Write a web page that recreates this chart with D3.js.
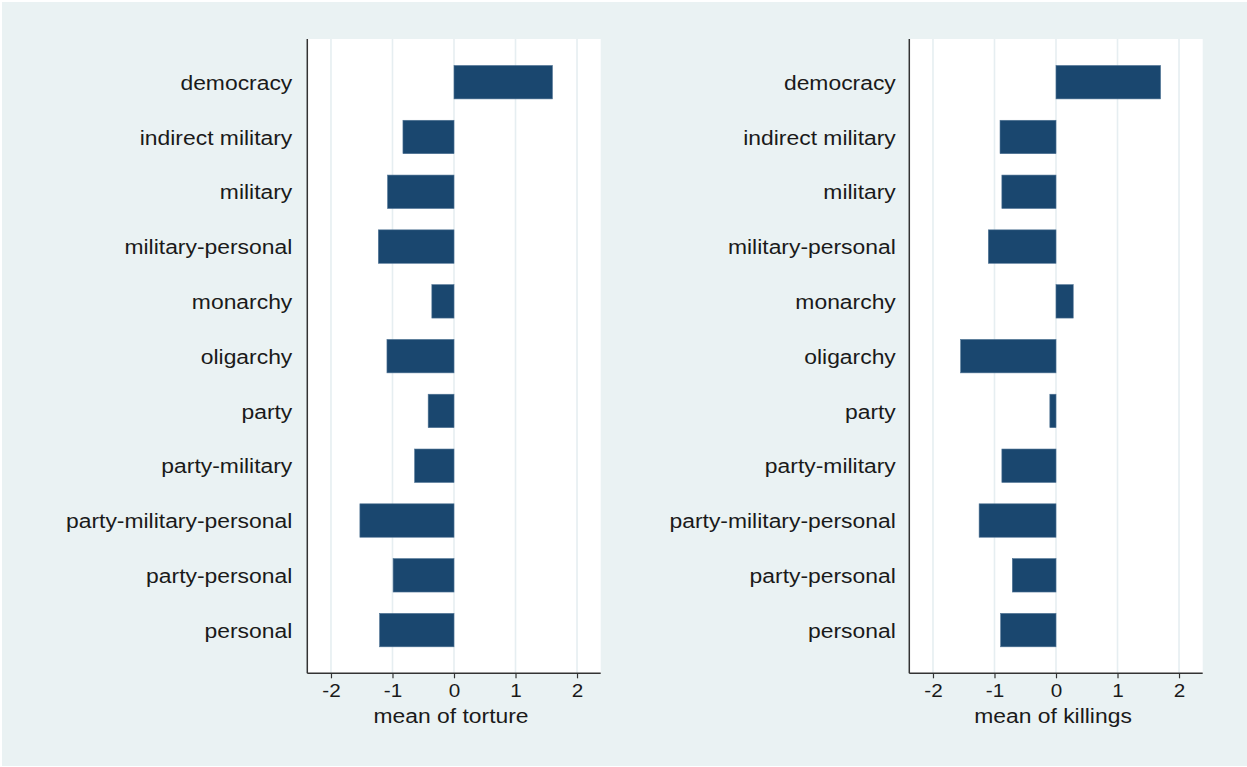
<!DOCTYPE html>
<html>
<head>
<meta charset="utf-8">
<script src="https://cdn.jsdelivr.net/npm/d3@7"></script>
<style>
  html, body { margin: 0; padding: 0; background: #ffffff; }
  svg { display: block; }
  text { font-family: "Liberation Sans", Arial, Helvetica, sans-serif; fill: #1a1a1a; }
</style>
</head>
<body>
<script>
// ---- data ----
const categories = ["democracy", "indirect military", "military", "military-personal", "monarchy",
  "oligarchy", "party", "party-military", "party-military-personal", "party-personal", "personal"];
const torture = [1.60, -0.83, -1.08, -1.23, -0.36, -1.09, -0.42, -0.64, -1.53, -0.99, -1.21];
const killings = [1.70, -0.91, -0.88, -1.10, 0.28, -1.55, -0.10, -0.88, -1.25, -0.71, -0.90];
const xTicks = [-2, -1, 0, 1, 2];
const xTitles = ["mean of torture", "mean of killings"];

// ---- layout ----
const W = 1247, H = 767;
const SX = 1.09; // horizontal text stretch
const svg = d3.select("body").append("svg").attr("width", W).attr("height", H);

svg.append("rect").attr("x", 2).attr("y", 2).attr("width", W - 2).attr("height", H - 3)
  .attr("fill", "#eaf2f3");

const plotTop = 39, plotBottom = 673.3, plotW = 293.4;
const panels = [
  { left: 307.3, values: torture, title: xTitles[0], gap: 15 },
  { left: 909.3, values: killings, title: xTitles[1], gap: 13.5 }
];

const barColor = "#1a476f";

panels.forEach(p => {
  const x = d3.scaleLinear().domain([-2.385, 2.385]).range([p.left, p.left + plotW]);
  const y = d3.scaleBand().domain(categories)
    .range([plotTop + 15.8, plotBottom - 15.8])
    .paddingInner(0.39).paddingOuter(0.195);

  const g = svg.append("g");

  // plot region
  g.append("rect").attr("x", p.left).attr("y", plotTop)
    .attr("width", plotW).attr("height", plotBottom - plotTop).attr("fill", "#ffffff");

  // gridlines
  g.selectAll("line.grid").data(xTicks).enter().append("line")
    .attr("class", "grid")
    .attr("x1", d => x(d)).attr("x2", d => x(d))
    .attr("y1", plotTop).attr("y2", plotBottom)
    .attr("stroke", "#e6eef1").attr("stroke-width", 1.6);

  // bars
  const data = categories.map((c, i) => ({ c, v: p.values[i] }));
  g.selectAll("rect.bar").data(data).enter().append("rect")
    .attr("class", "bar")
    .attr("x", d => Math.min(x(0), x(d.v)))
    .attr("width", d => Math.abs(x(d.v) - x(0)))
    .attr("y", d => y(d.c))
    .attr("height", y.bandwidth())
    .attr("fill", barColor)
    .attr("stroke", "#4f7394").attr("stroke-width", 0.6);

  // category axis
  const ya = g.append("g").attr("transform", `translate(${p.left},0)`)
    .call(d3.axisLeft(y).tickSize(0));
  ya.select(".domain").remove();
  ya.selectAll("text").style("font-size", "21px")
    .style("font-family", "'Liberation Sans', Arial, Helvetica, sans-serif")
    .attr("fill", "#1a1a1a").attr("dy", "0.36em")
    .attr("x", -p.gap / SX)
    .attr("transform", `scale(${SX},1)`);

  g.append("line").attr("x1", p.left).attr("x2", p.left)
    .attr("y1", plotTop).attr("y2", plotBottom)
    .attr("stroke", "#333").attr("stroke-width", 1.5);

  // x axis
  const xa = g.append("g").attr("transform", `translate(0,${plotBottom})`)
    .call(d3.axisBottom(x).tickValues(xTicks).tickSize(5).tickPadding(5).tickFormat(d => String(d)));
  xa.select(".domain").attr("stroke", "#333").attr("stroke-width", 1.5)
    .attr("d", `M${p.left},0H${p.left + plotW}`);
  xa.selectAll(".tick line").attr("stroke", "#333").attr("stroke-width", 1.2);
  xa.selectAll("text").style("font-size", "19px")
    .style("font-family", "'Liberation Sans', Arial, Helvetica, sans-serif")
    .attr("fill", "#1a1a1a")
    .attr("transform", `scale(${SX},1)`);

  // axis title
  const cx = p.left + plotW / 2 - 3;
  g.append("text").attr("x", cx / SX).attr("y", 723)
    .attr("transform", `scale(${SX},1)`)
    .attr("text-anchor", "middle").style("font-size", "21px")
    .text(p.title);
});
</script>
</body>
</html>
